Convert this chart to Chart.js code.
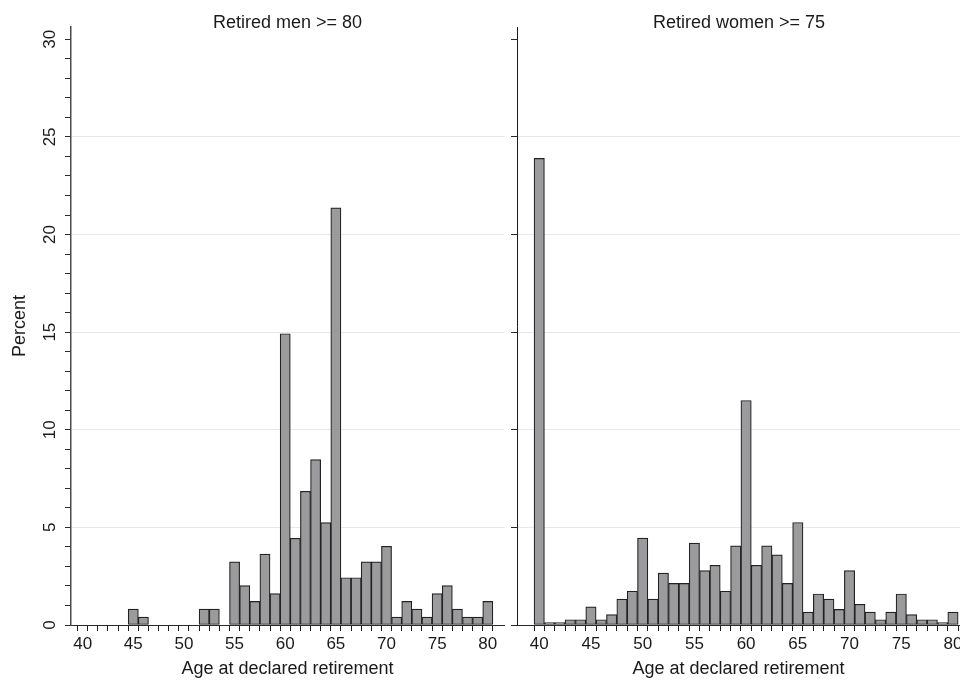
<!DOCTYPE html>
<html>
<head>
<meta charset="utf-8">
<script src="https://cdn.jsdelivr.net/npm/chart.js@4.4.1/dist/chart.umd.min.js"></script>
<style>
    html, body { margin: 0; padding: 0; background: #fff; }
    #wrap { position: relative; width: 960px; height: 680px; overflow: hidden; }
    #wrap canvas { position: absolute; top: 0; }
    #menChart { left: 0; }
    #womenChart { left: 505px; }
</style>
</head>
<body>
<div id="wrap">
    <canvas id="menChart" width="510" height="680"></canvas>
    <!-- right panel runs past the window edge, as in the original export -->
    <canvas id="womenChart" width="480" height="680"></canvas>
</div>
<script>
// ages 40..80, one bar per year
const ages = [40, 41, 42, 43, 44, 45, 46, 47, 48, 49, 50, 51, 52, 53, 54, 55, 56, 57, 58, 59, 60,
    61, 62, 63, 64, 65, 66, 67, 68, 69, 70, 71, 72, 73, 74, 75, 76, 77, 78, 79, 80];

const menPercent = [0, 0, 0, 0, 0, 0.81, 0.40, 0, 0, 0, 0, 0, 0.81, 0.81, 0, 3.23, 2.02, 1.21, 3.63, 1.61, 14.92,
    4.44, 6.85, 8.47, 5.24, 21.37, 2.42, 2.42, 3.23, 3.23, 4.03, 0.40, 1.21, 0.81, 0.40, 1.61, 2.02, 0.81, 0.40, 0.40, 1.21];

const womenPercent = [23.9, 0.13, 0.13, 0.27, 0.27, 0.93, 0.27, 0.53, 1.33, 1.73, 4.45, 1.33, 2.66, 2.13, 2.13, 4.19, 2.79, 3.06, 1.73, 4.05, 11.5,
    3.06, 4.05, 3.59, 2.13, 5.25, 0.66, 1.59, 1.33, 0.80, 2.79, 1.06, 0.66, 0.27, 0.66, 1.59, 0.53, 0.27, 0.27, 0.13, 0.66];

const xTickLabels = ['40', '45', '50', '55', '60', '65', '70', '75', '80'];
const yTickLabels = ['0', '5', '10', '15', '20', '25', '30'];
const panelTitles = ['Retired men >= 80', 'Retired women >= 75'];
const xAxisTitle = 'Age at declared retirement';
const yAxisTitle = 'Percent';

const FONT = '"Liberation Sans", Arial, Helvetica, sans-serif';

// titles above each panel and the rotated y tick labels (Stata style)
const panelTextPlugin = {
    id: 'panelText',
    afterDraw(chart, args, opts) {
        const ctx = chart.ctx;
        const area = chart.chartArea;
        ctx.save();
        ctx.fillStyle = '#1a1a1a';
        ctx.textAlign = 'center';
        ctx.textBaseline = 'alphabetic';
        ctx.font = '18px ' + FONT;
        ctx.fillText(opts.title, opts.titleX !== undefined ? opts.titleX : (area.left + area.right) / 2, 27.5);

        if (opts.yLabels) {
            const yScale = chart.scales.y;
            ctx.font = '17px ' + FONT;
            yTickLabels.forEach(label => {
                const py = yScale.getPixelForValue(Number(label));
                ctx.save();
                ctx.translate(area.left - 16, py);
                ctx.rotate(-Math.PI / 2);
                ctx.fillText(label, 0, 0);
                ctx.restore();
            });
        }
        ctx.restore();
    }
};

document.addEventListener('DOMContentLoaded', function () {
    setupChart('menChart', menPercent, {
        title: panelTitles[0],
        xMin: 38.85,
        xMax: 81.6,
        padRight: 6,
        leftPanel: true
    });
    setupChart('womenChart', womenPercent, {
        title: panelTitles[1],
        titleX: 234,
        xMin: 37.85,
        xMax: 80.68,
        padRight: 25,
        leftPanel: false
    });
});

function setupChart(canvasId, values, cfg) {
    const ctx = document.getElementById(canvasId).getContext('2d');

    // y ticks: every 1 on the left panel (minor ticks), every 5 on the right
    const yTickValues = [];
    for (let v = 0; v <= 30; v += (cfg.leftPanel ? 1 : 5)) {
        yTickValues.push(v);
    }

    return new Chart(ctx, {
        type: 'bar',
        data: {
            datasets: [{
                data: ages.map((age, i) => ({ x: age, y: values[i] })),
                backgroundColor: '#9b9b9d',
                borderColor: '#222222',
                borderWidth: 1.2,
                borderSkipped: false,
                barPercentage: 1,
                categoryPercentage: 1
            }]
        },
        options: {
            responsive: false,
            animation: false,
            events: [],
            layout: {
                padding: { top: 27, right: cfg.padRight, left: 0, bottom: 0 }
            },
            plugins: {
                legend: { display: false },
                tooltip: { enabled: false },
                panelText: { title: cfg.title, titleX: cfg.titleX, yLabels: cfg.leftPanel }
            },
            scales: {
                x: {
                    type: 'linear',
                    min: cfg.xMin,
                    max: cfg.xMax,
                    offset: false,
                    afterBuildTicks: axis => {
                        axis.ticks = ages.map(v => ({ value: v }));
                    },
                    afterFit: scale => {
                        scale.height = 55;
                    },
                    ticks: {
                        autoSkip: false,
                        maxRotation: 0,
                        padding: 3,
                        color: '#1a1a1a',
                        font: { family: FONT, size: 17 },
                        callback: value => xTickLabels.includes(String(value)) ? String(value) : ''
                    },
                    grid: {
                        drawOnChartArea: false,
                        drawTicks: true,
                        tickLength: 6,
                        tickColor: '#1a1a1a'
                    },
                    border: { color: '#2a2a2a', width: 1 },
                    title: {
                        display: true,
                        text: xAxisTitle,
                        color: '#1a1a1a',
                        font: { family: FONT, size: 18 },
                        padding: 0
                    }
                },
                y: {
                    min: 0,
                    max: 30.63,
                    afterBuildTicks: axis => {
                        axis.ticks = yTickValues.map(v => ({ value: v }));
                    },
                    afterFit: scale => {
                        scale.width = cfg.leftPanel ? 71 : 12;
                    },
                    ticks: { display: false },
                    grid: {
                        drawOnChartArea: true,
                        drawTicks: true,
                        tickLength: 6,
                        lineWidth: 1,
                        color: c => (c.tick && c.tick.value % 5 === 0 && c.tick.value > 0 && c.tick.value < 30) ? '#e8e8e8' : 'rgba(0,0,0,0)',
                        tickColor: '#2a2a2a'
                    },
                    border: {
                        color: cfg.leftPanel ? '#4a4a4a' : '#1a1a1a',
                        width: cfg.leftPanel ? 1.5 : 1
                    },
                    title: {
                        display: cfg.leftPanel,
                        text: yAxisTitle,
                        color: '#1a1a1a',
                        font: { family: FONT, size: 18 },
                        padding: { top: 9.5, bottom: 0 }
                    }
                }
            }
        },
        plugins: [panelTextPlugin]
    });
}
</script>
</body>
</html>
